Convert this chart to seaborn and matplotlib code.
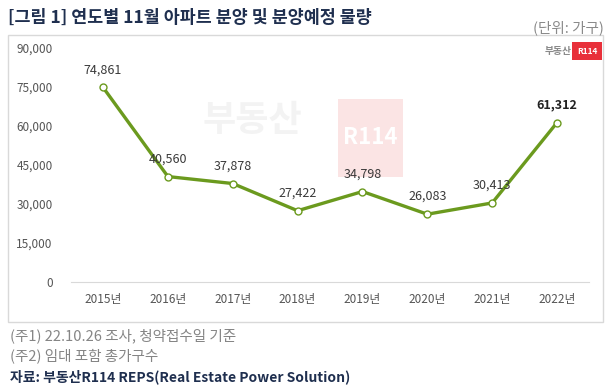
import matplotlib.pyplot as plt
import matplotlib.patches as patches
import pandas as pd
import seaborn as sns

years = ["2015년", "2016년", "2017년", "2018년", "2019년", "2020년", "2021년", "2022년"]
supply = [74861, 40560, 37878, 27422, 34798, 26083, 30413, 61312]
y_ticks = [0, 15000, 30000, 45000, 60000, 75000, 90000]

df = pd.DataFrame({"year": years, "units": supply})

sns.set_style("white")
plt.rcParams["font.family"] = ["Noto Sans CJK KR", "DejaVu Sans"]

line_color = "#6b9a1e"
navy = "#1f2f4f"

fig = plt.figure(figsize=(6.14, 3.89), dpi=100)
ax = fig.add_axes([0.115, 0.275, 0.845, 0.6016])

# outer frame of the chart
fig.add_artist(patches.Rectangle((8 / 614, 1 - 322 / 389), 595 / 614, 287 / 389,
                                 transform=fig.transFigure, fill=False,
                                 edgecolor="#d9d9d9", linewidth=1))

# faint watermark in the middle
ax.text(2.3, 62000, "부동산", fontsize=26, fontweight="bold", color="#f3f3f3",
        ha="center", va="center", zorder=0)
ax.add_patch(patches.Rectangle((3.62, 40500), 1.0, 30000, facecolor="#fbe4e4",
                               edgecolor="none", zorder=0))
ax.text(4.12, 55500, "R114", fontsize=16, fontweight="bold", color="white",
        ha="center", va="center", zorder=0)

sns.lineplot(data=df, x="year", y="units", ax=ax, color=line_color, linewidth=2.4,
             marker="o", markersize=5, markerfacecolor="white",
             markeredgecolor=line_color, markeredgewidth=1, sort=False)

for i, v in enumerate(supply):
    last = i == len(supply) - 1
    ax.annotate(f"{v:,}", (i, v), textcoords="offset points", xytext=(0, 8),
                ha="center", va="bottom", fontsize=9,
                color="#222222" if last else "#3a3a3a",
                fontweight="bold" if last else "normal")

ax.set_xlim(-0.5, len(years) - 0.5)
ax.set_ylim(0, 90000)
ax.set_yticks(y_ticks)
ax.set_yticklabels([f"{t:,}" for t in y_ticks])
ax.tick_params(axis="both", length=0, labelsize=8.5, labelcolor="#555555")
ax.tick_params(axis="x", pad=8)
ax.tick_params(axis="y", pad=13)
ax.set_xlabel("")
ax.set_ylabel("")
for side in ["top", "right", "left"]:
    ax.spines[side].set_visible(False)
ax.spines["bottom"].set_color("#d9d9d9")

# small logo top right
fig.text(572 / 614, 1 - 51 / 389, "부동산", fontsize=7, fontweight="bold",
         color="#8a8a8a", ha="right", va="center")
fig.text(587 / 614, 1 - 51 / 389, "R114", fontsize=6, fontweight="bold", color="white",
         ha="center", va="center",
         bbox=dict(boxstyle="square,pad=0.55", facecolor="#e8303a", edgecolor="none"))

fig.text(8 / 614, 1 - 18 / 389, "[그림 1] 연도별 11월 아파트 분양 및 분양예정 물량",
         fontsize=12.5, fontweight="bold", color=navy, ha="left", va="center")
fig.text(604 / 614, 1 - 28 / 389, "(단위: 가구)", fontsize=10.5, color="#8a8a8a",
         ha="right", va="center")
fig.text(10 / 614, 1 - 336 / 389, "(주1) 22.10.26 조사, 청약접수일 기준",
         fontsize=10.5, color="#858585", ha="left", va="center")
fig.text(10 / 614, 1 - 356 / 389, "(주2) 임대 포함 총가구수",
         fontsize=10.5, color="#858585", ha="left", va="center")
fig.text(10 / 614, 1 - 377 / 389, "자료: 부동산R114 REPS(Real Estate Power Solution)",
         fontsize=10, fontweight="bold", color=navy, ha="left", va="center")

fig.savefig("out.png", dpi=100)
